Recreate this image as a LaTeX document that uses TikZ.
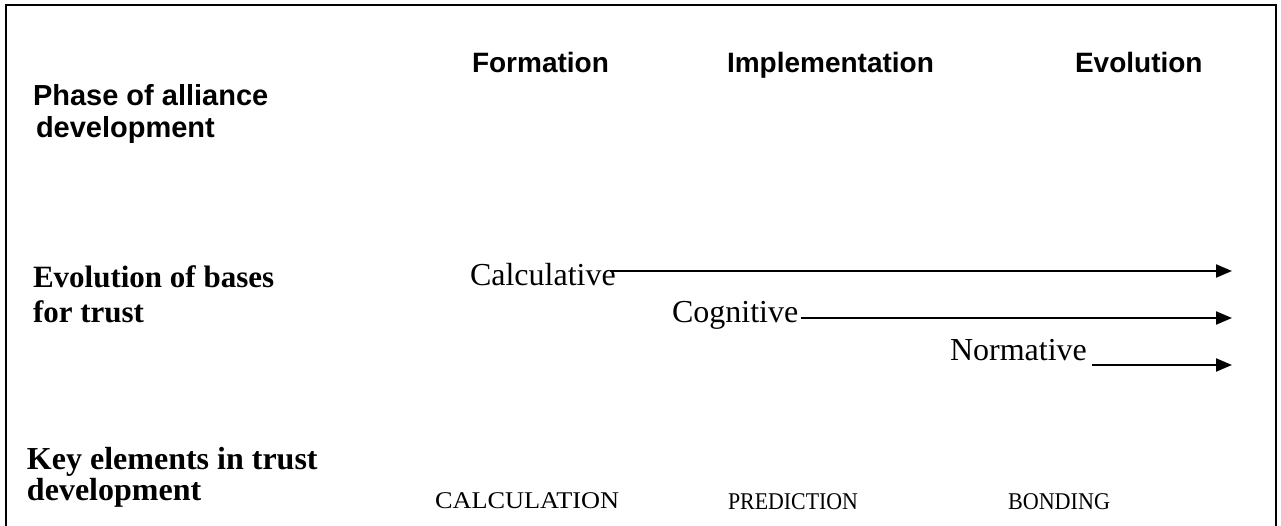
\documentclass[tikz,border=0pt]{standalone}
\usepackage{fontspec}
\setmainfont{Liberation Serif}
\newfontfamily\arialfont{Liberation Sans}
\usetikzlibrary{arrows.meta}
\begin{document}
\begin{tikzpicture}[x=1pt,y=-1pt,
  lbl/.style={anchor=base west,inner sep=0pt,outer sep=0pt},
  phase/.style={lbl,font=\arialfont\bfseries\fontsize{28}{32}\selectfont},
  rowhead/.style={lbl,align=left,font=\bfseries\fontsize{31}{35}\selectfont},
  basis/.style={lbl,font=\fontsize{32}{36}\selectfont},
  keyel/.style={lbl,font=\fontsize{24}{28}\selectfont},
  arr/.style={line width=2pt,-{Triangle[length=16pt,width=13pt]}},
  frame/.style={line width=2pt}]
\useasboundingbox (0,0) rectangle (1281,526);
\coordinate (fbl) at (6,530);
\coordinate (ftl) at (6,5);
\coordinate (ftr) at (1276,5);
\coordinate (fbr) at (1276,530);
\draw[frame] (fbl) -- (ftl) -- (ftr) -- (fbr);
% header row
\node[phase,align=left,font=\arialfont\bfseries\fontsize{29}{32}\selectfont] (phase) at (33,138) {Phase of alliance\\\hspace*{3pt}development};
\node[phase] (form) at (472,73) {Formation};
\node[phase] (impl) at (727,73) {Implementation};
\node[phase] (evol) at (1075,73) {Evolution};
% bases row
\node[rowhead] (bases) at (33,322) {Evolution of bases\\for trust};
\node[basis] (calc) at (470,286) {Calculative};
\node[basis] (cogn) at (672,323) {Cognitive};
\node[basis] (norm) at (950,360) {Normative};
\coordinate (calcE) at (1232,271);
\coordinate (cognE) at (1232,318);
\coordinate (normE) at (1232,365);
\draw[arr] ([xshift=-6pt,yshift=15pt]calc.base east) -- (calcE);
\draw[arr] ([xshift=3pt,yshift=5pt]cogn.base east) -- (cognE);
\draw[arr] ([xshift=5pt,yshift=-5pt]norm.base east) -- (normE);
% key elements row
\node[lbl,align=left,font=\bfseries\fontsize{32}{28}\selectfont] (key) at (27,500) {Key elements in trust\\development};
\node[keyel] (calcn) at (435,508) {\scalebox{1.096}[1]{CALCULATION}};
\node[keyel] (pred) at (728,509) {\scalebox{0.911}[1]{PREDICTION}};
\node[keyel] (bond) at (1008,509) {\scalebox{0.922}[1]{BONDING}};
\end{tikzpicture}
\end{document}
